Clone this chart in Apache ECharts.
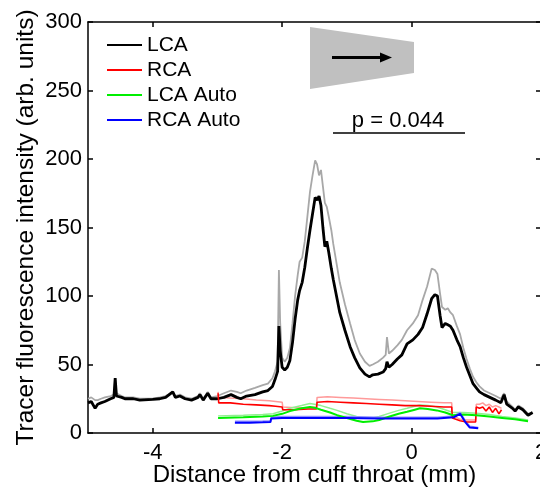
<!DOCTYPE html>
<html>
<head>
<meta charset="utf-8">
<script src="https://cdn.jsdelivr.net/npm/echarts@6/dist/echarts.min.js"></script>
<style>
html,body{margin:0;padding:0;background:#fff;}
#chart{width:540px;height:488px;}
</style>
</head>
<body>
<div id="chart"></div>
<script>
// ---------- DATA ----------
const xTickValues = [-4, -2, 0, 2];
const legendNames = ['LCA', 'RCA', 'LCA Auto', 'RCA Auto'];

const lcaX = [-5.00,-4.95,-4.89,-4.85,-4.80,-4.74,-4.65,-4.60,-4.58,-4.56,-4.53,-4.48,-4.43,-4.30,-4.20,-4.00,-3.89,-3.80,-3.69,-3.65,-3.58,-3.50,-3.40,-3.30,-3.27,-3.22,-3.15,-3.10,-3.00,-2.90,-2.79,-2.70,-2.64,-2.55,-2.42,-2.30,-2.22,-2.15,-2.11,-2.07,-2.05,-2.03,-2.00,-1.96,-1.92,-1.88,-1.84,-1.80,-1.76,-1.73,-1.69,-1.65,-1.61,-1.57,-1.53,-1.49,-1.46,-1.43,-1.40,-1.37,-1.34,-1.31,-1.28,-1.24,-1.21,-1.16,-1.11,-1.03,-0.95,-0.88,-0.80,-0.72,-0.65,-0.60,-0.52,-0.44,-0.40,-0.38,-0.35,-0.30,-0.22,-0.15,-0.07,0.02,0.10,0.17,0.24,0.31,0.36,0.40,0.44,0.47,0.52,0.56,0.60,0.64,0.70,0.75,0.80,0.85,0.90,0.95,1.00,1.05,1.12,1.21,1.30,1.38,1.43,1.47,1.56,1.60,1.65,1.72,1.80,1.87];
const lcaY = [22,23,18,21,22,23,25,26,40,27,28,26,25,25,24,24.5,25,26,30,26,27,25,24,26,28,24,29,25,25,26,28,26,25,27,28,30,31,34,39,45,78,60,48,46,48,53,66,83,97,104,110,121,135,148,160,172,170,173,166,150,136,140,132,120,112,100,88,75,63,55,47.5,43,41,42.5,43,44.5,47,52,48,50,54,57,65,68,72,77,87,98,101,100,86,77,80,79,78,75,68,63,55,48,42,36,33,30,28,26,24,22,28,21,18,16,19,17,13,15];
const lcaUpper = [25,26,24,24,25,26,27,28,40,29,29,27,26,26,25,25,26,27,30,27,28,26,25,27,29,25,30,26,27,29,31,30,29,31,33,35,36,40,45,52,119,80,55,52,55,62,80,100,115,125,128,140,158,176,188,199,196,188,192,180,168,165,158,148,138,124,110,94,80,68,58,52,49,50,52,55,57,70,58,60,64,68,75,80,86,97,107,120,119,116,102,92,90,91,88,86,78,72,62,54,47,41,37,34,31,29,27,25,29,23,19,17,20,18,14,15];

const rcaX = [-2.99,-2.98,-2.80,-2.60,-2.40,-2.20,-2.10,-2.00,-1.99,-1.80,-1.60,-1.47,-1.46,-1.30,-1.10,-0.90,-0.70,-0.50,-0.30,-0.10,0.10,0.30,0.50,0.62,0.63,0.75,0.85,0.99,1.00,1.05,1.10,1.15,1.20,1.25,1.30,1.35,1.39];
const rcaY = [29,22,22,21,20.5,20,19.5,19,17,17,17.5,17.5,22.5,23,22.5,22,21.5,21,20.5,20,20,19.5,19,19,11,9,8,8,19,18,19,16,19,15,18,14,17];
const rcaUpper = [30,26,25.5,25,24,23.5,23,22.5,19,18.5,18.5,19,26,26.5,26,25.5,25,24.5,24,23.5,23,22.5,22,22,13,10,9.5,9.5,21,21,22,20,21,19,20,19,18];

const lcaAutoX = [-2.99,-2.60,-2.30,-2.14,-2.00,-1.88,-1.70,-1.57,-1.50,-1.40,-1.26,-1.15,-1.00,-0.85,-0.75,-0.60,-0.50,-0.34,-0.20,-0.07,0.05,0.13,0.25,0.39,0.52,0.64,0.80,1.00,1.20,1.40,1.60,1.80];
const lcaAutoY = [11,11.5,12,12.5,14,16,18,19,18.5,17,15,13,11,9,8,8.5,9.5,12,14,15.5,17,18,17.5,16.5,15,13,13.5,13,12,11,10,8.5];
const lcaAutoUpper = [12.5,13,13.5,14,16,18,20,21.5,21,20,18,16.5,14,12,11,11,12,14.5,16.5,18,19.5,20.5,20,19,17,15,15,14.5,13.5,12,11,9.5];

const rcaAutoX = [-2.73,-2.50,-2.30,-2.18,-2.17,-2.00,-1.50,-1.00,-0.50,0.00,0.40,0.65,0.75,0.78,0.83,0.90,1.03];
const rcaAutoY = [7.5,7.5,7.8,8,10.5,11,11,11,10.5,10.5,10.5,11.5,14,13,8,4,3.5];
const rcaAutoUpper = [8.5,8.5,8.8,9,11.5,12,12,12,11.5,11.5,11.5,12.5,15,14,9,5,4];

// ---------- CHART ----------
const FONT = '"Liberation Sans", Arial, sans-serif';
const zip = (xs, ys) => xs.map((x, i) => [x, ys[i]]);

function lineSeries(name, xs, ys, color, width, z) {
  return {
    name: name, type: 'line', data: zip(xs, ys),
    showSymbol: false, symbol: 'none', smooth: false, animation: false,
    lineStyle: { color: color, width: width },
    itemStyle: { color: color }, z: z, silent: true
  };
}

const chart = echarts.init(document.getElementById('chart'), null, { renderer: 'canvas' });

const axisLineStyle = { color: '#000', width: 1.5 };

const option = {
  animation: false,
  backgroundColor: '#fff',
  grid: { left: 88, right: -1, top: 22, bottom: 55, containLabel: false, outerBoundsMode: 'none' },
  legend: {
    data: legendNames,
    orient: 'vertical',
    left: 102, top: 29.5,
    itemWidth: 35, itemHeight: 2, itemGap: 4,
    icon: 'rect',
    textStyle: { fontSize: 21, fontFamily: FONT, color: '#000', lineHeight: 21 },
    selectedMode: false
  },
  xAxis: [{
    type: 'value', min: -5, max: 2, position: 'bottom',
    axisLine: { show: true, onZero: false, lineStyle: axisLineStyle },
    axisTick: { show: true, inside: true, length: 5, customValues: xTickValues, lineStyle: axisLineStyle },
    axisLabel: { customValues: xTickValues, color: '#000', fontSize: 22, fontFamily: FONT, margin: 9 },
    splitLine: { show: false },
    name: 'Distance from cuff throat (mm)', nameLocation: 'middle', nameGap: 30, nameMoveOverlap: false,
    nameTextStyle: { fontSize: 24, fontFamily: FONT, color: '#000' }
  }, {
    type: 'value', min: -5, max: 2, position: 'top',
    axisLine: { show: true, onZero: false, lineStyle: axisLineStyle },
    axisTick: { show: true, inside: true, length: 5, customValues: xTickValues, lineStyle: axisLineStyle },
    axisLabel: { show: false },
    splitLine: { show: false }
  }],
  yAxis: [{
    type: 'value', min: 0, max: 300, interval: 50, position: 'left',
    axisLine: { show: true, onZero: false, lineStyle: axisLineStyle },
    axisTick: { show: true, inside: true, length: 5, lineStyle: axisLineStyle },
    axisLabel: { color: '#000', fontSize: 22, fontFamily: FONT, margin: 6 },
    splitLine: { show: false },
    name: 'Tracer fluorescence intensity (arb. units)', nameLocation: 'middle', nameGap: 49, nameMoveOverlap: false,
    nameTextStyle: { fontSize: 24.5, fontFamily: FONT, color: '#000' }
  }, {
    type: 'value', min: 0, max: 300, interval: 50, position: 'right',
    axisLine: { show: true, onZero: false, lineStyle: axisLineStyle },
    axisTick: { show: true, inside: true, length: 5, lineStyle: axisLineStyle },
    axisLabel: { show: false },
    splitLine: { show: false }
  }],
  series: [
    lineSeries('LCA upper', lcaX, lcaUpper, '#a8a8a8', 1.8, 2),
    lineSeries('LCA', lcaX, lcaY, '#000000', 2.8, 6),
    lineSeries('RCA upper', rcaX, rcaUpper, '#ff9a9a', 1.5, 3),
    lineSeries('RCA', rcaX, rcaY, '#ff0000', 1.6, 7),
    lineSeries('LCA Auto upper', lcaAutoX, lcaAutoUpper, '#90f090', 1.5, 3),
    lineSeries('LCA Auto', lcaAutoX, lcaAutoY, '#00ee00', 2, 7),
    lineSeries('RCA Auto upper', rcaAutoX, rcaAutoUpper, '#9090ff', 1.5, 3),
    lineSeries('RCA Auto', rcaAutoX, rcaAutoY, '#0000ff', 2, 8)
  ],
  graphic: [
    { type: 'polygon', shape: { points: [[310, 27], [414, 42], [414, 73], [310, 89]] },
      style: { fill: '#c0c0c0' }, z: 10 },
    { type: 'line', shape: { x1: 332, y1: 57.5, x2: 382, y2: 57.5 },
      style: { stroke: '#000', lineWidth: 3 }, z: 11 },
    { type: 'polygon', shape: { points: [[380, 52.5], [392, 57.5], [380, 62.5]] },
      style: { fill: '#000' }, z: 11 },
    { type: 'text', x: 398, y: 121,
      style: { text: 'p = 0.044', font: '22px ' + FONT, fill: '#000', align: 'center', verticalAlign: 'middle' }, z: 11 },
    { type: 'line', shape: { x1: 333, y1: 133, x2: 465, y2: 133 },
      style: { stroke: '#000', lineWidth: 1.5 }, z: 11 }
  ]
};

chart.setOption(option);
</script>
</body>
</html>
